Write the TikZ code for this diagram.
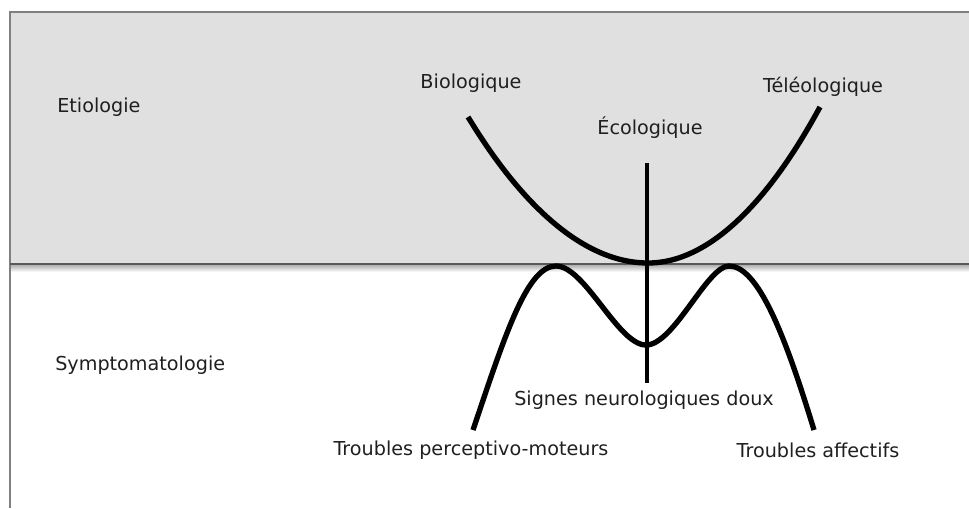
\documentclass[tikz,border=0pt]{standalone}
\usepackage{fontspec}
\setmainfont{DejaVu Sans}
\usetikzlibrary{positioning}
\begin{document}
\begin{tikzpicture}[x=0.75pt,y=-0.75pt,
    lbl/.style={font=\fontsize{14.4}{17}\selectfont,text=black!88,inner sep=0pt},
    courbe/.style={line width=4pt}]
\useasboundingbox (0,0) rectangle (969,508);

\fill[black!12] (10,12) rectangle (969,264);
\shade[top color=black!35,bottom color=white] (10,264) rectangle (969,272);
\draw[black!50,line width=1.2pt] (969,12) -- (10,12) -- (10,508);
\draw[black!65,line width=1.8pt] (10,264) -- (969,264);

\node[lbl,anchor=west] (etio) at (57,107) {Etiologie};
\node[lbl,anchor=west] (sympto) at (55,365) {Symptomatologie};
\foreach \txt/\x/\y [count=\n] in {Biologique/471/83,Écologique/650/128,Téléologique/823/87,
    Signes neurologiques doux/644/400,Troubles perceptivo-moteurs/471/450,Troubles affectifs/818/450}
    \node[lbl] (L\n) at (\x,\y) {\txt};

\coordinate (bio) at (468,117);
\coordinate (teleo) at (820,107);
\coordinate (fond) at (648,263);
\coordinate (eco) at (647,163);
\coordinate (doux) at (647,383);
\coordinate (tpm) at (473,430);
\coordinate (pic1) at (556,266);
\coordinate (creux) at (646,345);
\coordinate (pic2) at (729,266);
\coordinate (aff) at (814,430);

\draw[courbe] (bio) parabola bend (fond) (teleo);
\draw[line width=3pt] (eco) -- (doux);
\draw[courbe] (tpm) .. controls (505,335) and (527,266) .. (pic1)
    .. controls (585,266) and (618,345) .. (creux)
    .. controls (674,345) and (707,266) .. (pic2)
    .. controls (758,266) and (785,335) .. (aff);
\end{tikzpicture}
\end{document}
